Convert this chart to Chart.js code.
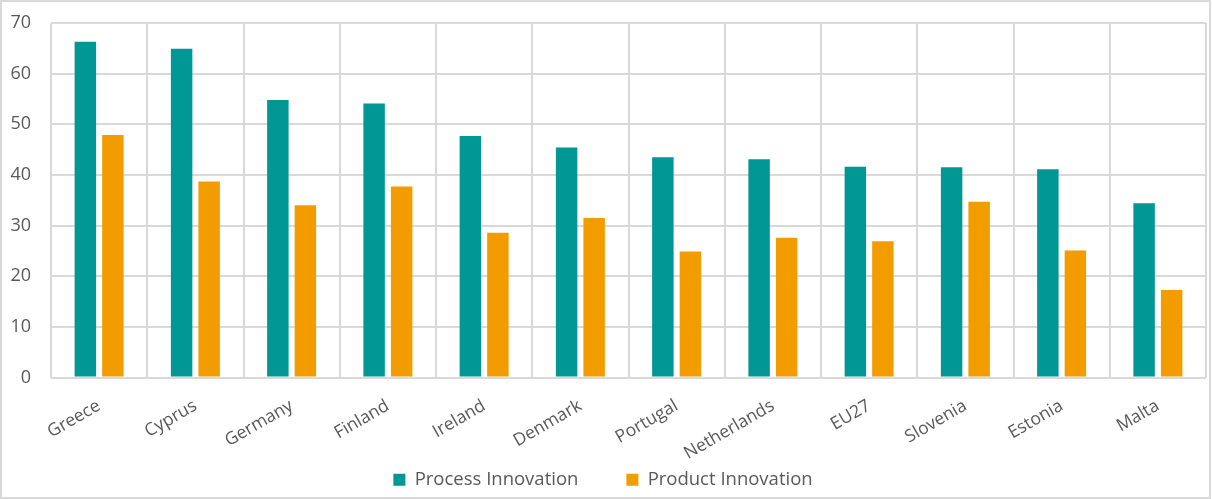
<!DOCTYPE html>
<html>
<head>
<meta charset="utf-8">
<title>Process and Product Innovation</title>
<script src="https://cdn.jsdelivr.net/npm/chart.js@4/dist/chart.umd.min.js"></script>
<style>
  html, body { margin: 0; padding: 0; background: #ffffff; }
  #wrap { position: relative; width: 1212px; height: 499px; }
  canvas { display: block; }
</style>
</head>
<body>
<div id="wrap"><canvas id="chart" width="1212" height="499"></canvas></div>
<script>
// Categories and series values
const countries = ['Greece', 'Cyprus', 'Germany', 'Finland', 'Ireland', 'Denmark', 'Portugal', 'Netherlands', 'EU27', 'Slovenia', 'Estonia', 'Malta'];
const processInnovation = [66.3, 64.9, 54.8, 54.1, 47.7, 45.4, 43.5, 43.1, 41.6, 41.5, 41.1, 34.4];
const productInnovation = [47.9, 38.7, 34.0, 37.7, 28.6, 31.5, 24.9, 27.6, 26.9, 34.7, 25.1, 17.3];
const seriesNames = ['Process Innovation', 'Product Innovation'];
const yTicks = [0, 10, 20, 30, 40, 50, 60, 70];

const TEAL = '#009794';
const ORANGE = '#F39C00';
const GRID = '#d9d9d9';
const TEXT = '#595959';
const FONT = "'Open Sans', 'DejaVu Sans', sans-serif";

// White background and light frame around the whole chart
const framePlugin = {
  id: 'frame',
  beforeDraw(chart) {
    const ctx = chart.ctx;
    ctx.save();
    ctx.fillStyle = '#ffffff';
    ctx.fillRect(0, 0, chart.width, chart.height);
    ctx.strokeStyle = GRID;
    ctx.lineWidth = 2;
    ctx.strokeRect(1, 1, chart.width - 3, chart.height - 2);
    ctx.restore();
  }
};

new Chart(document.getElementById('chart'), {
  type: 'bar',
  data: {
    labels: countries,
    datasets: [
      { label: seriesNames[0], data: processInnovation, backgroundColor: TEAL, borderWidth: 0 },
      { label: seriesNames[1], data: productInnovation, backgroundColor: ORANGE, borderWidth: 0 }
    ]
  },
  options: {
    responsive: false,
    animation: false,
    devicePixelRatio: 1,
    datasets: {
      bar: { categoryPercentage: 0.572, barPercentage: 0.78 }
    },
    layout: { padding: { left: 0, top: 23, right: 6, bottom: 0 } },
    plugins: {
      legend: {
        position: 'bottom',
        labels: {
          color: TEXT,
          font: { family: FONT, size: 18.5 },
          boxWidth: 12,
          boxHeight: 12,
          padding: 48
        }
      },
      tooltip: { enabled: false }
    },
    scales: {
      x: {
        grid: { color: GRID, lineWidth: 2, drawTicks: false, offset: true },
        border: { display: false },
        ticks: {
          color: TEXT,
          font: { family: FONT, size: 17.5 },
          minRotation: 30,
          maxRotation: 30,
          padding: 18,
          autoSkip: false
        },
        afterFit(scale) {
          scale.height = 45;
          // let the slanted labels run below the axis box
          scale._computeLabelArea = () => undefined;
        }
      },
      y: {
        min: 0,
        max: 70,
        afterBuildTicks(scale) { scale.ticks = yTicks.map(v => ({ value: v })); },
        grid: { color: GRID, lineWidth: 2, drawTicks: false },
        border: { display: false },
        ticks: {
          color: TEXT,
          font: { family: FONT, size: 18 },
          padding: 20
        },
        afterFit(scale) {
          scale.width = 51;
          scale.paddingTop = 11;
          scale.paddingBottom = 11;
        }
      }
    }
  },
  plugins: [framePlugin]
});
</script>
</body>
</html>
